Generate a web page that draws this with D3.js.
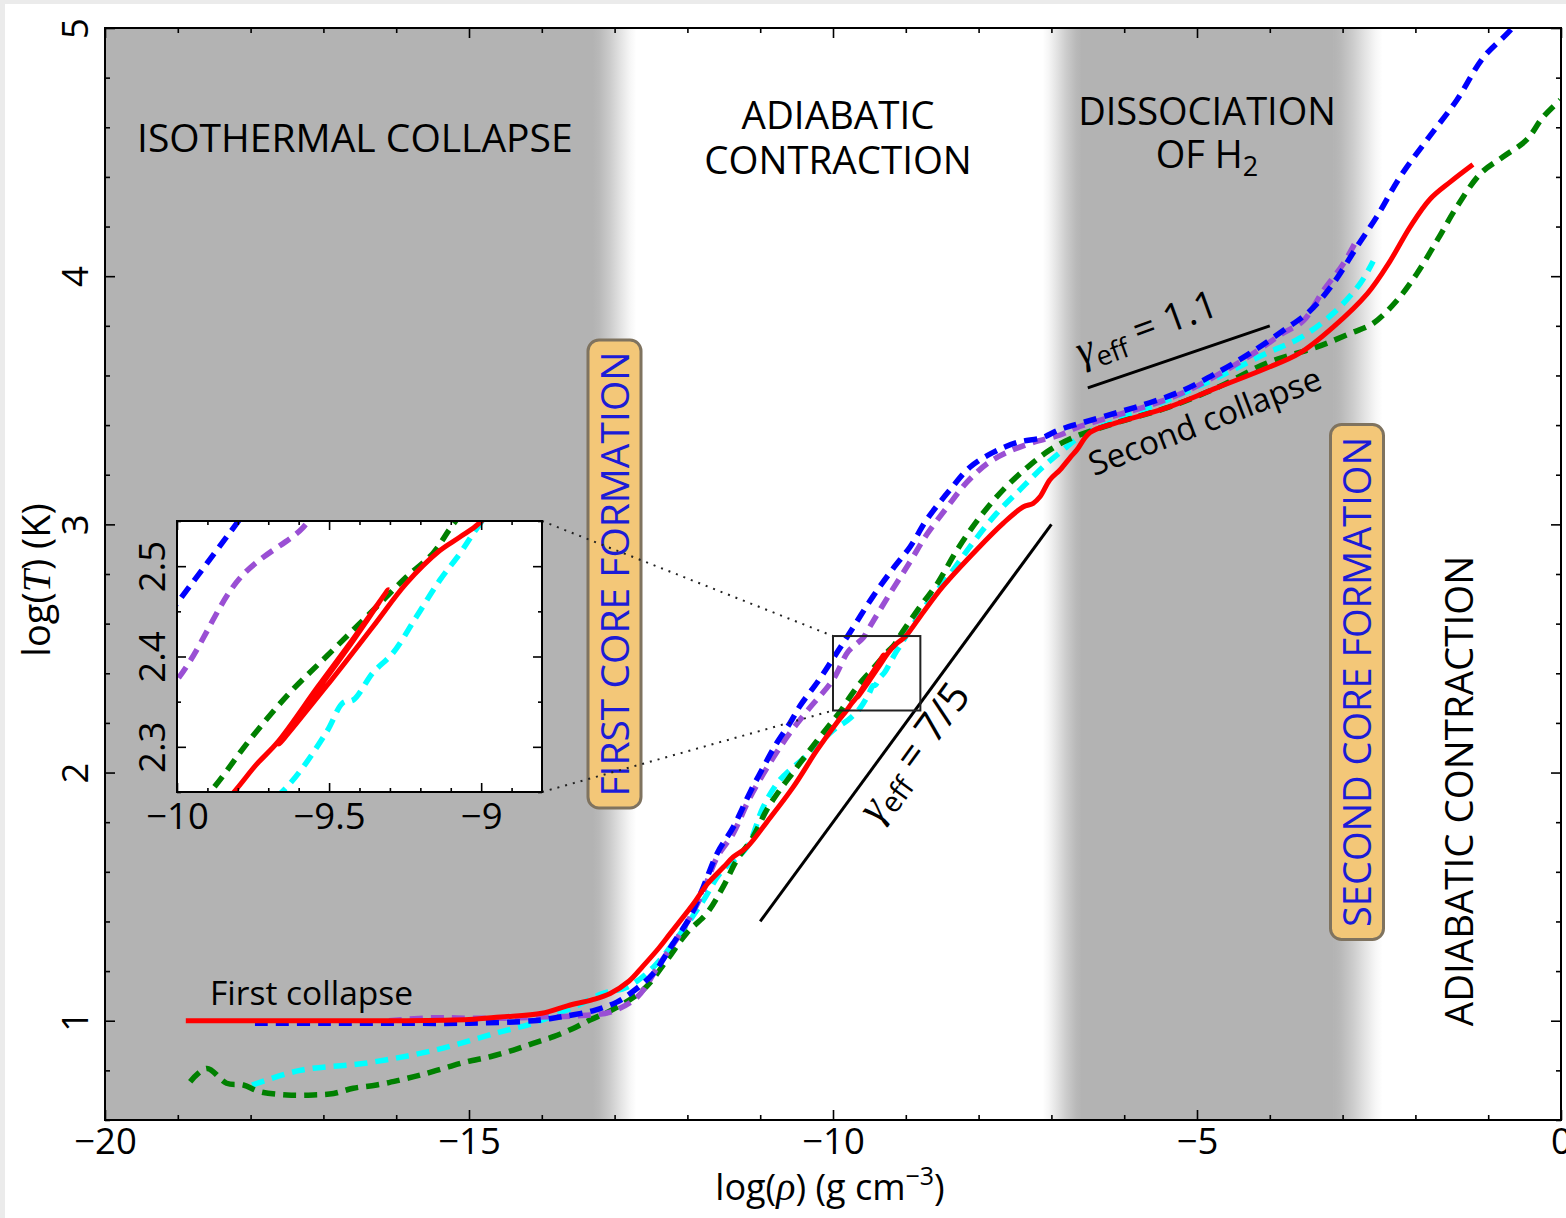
<!DOCTYPE html>
<html>
<head>
<meta charset="utf-8">
<script src="https://cdn.jsdelivr.net/npm/d3@7"></script>
<style>
  html, body { margin: 0; padding: 0; background: #ebebeb; }
  svg { display: block; }
  text { font-family: "Open Sans", "Noto Sans", sans-serif; fill: #000; }
</style>
</head>
<body>
<svg id="chart" width="1566" height="1218"></svg>
<script>
// Thermal evolution of collapsing cores: log(T) against log(rho), five runs.

// ---- series: [log rho (g cm^-3), log T (K)] ----
const redTrack = [
  [-18.89, 1.0], [-17, 1.0], [-16, 1.0], [-15, 1.005], [-14.57, 1.015], [-14, 1.03],
  [-13.65, 1.06], [-13.3, 1.085], [-13.06, 1.11], [-12.8, 1.16], [-12.61, 1.22],
  [-12.4, 1.29], [-12.24, 1.35], [-11.92, 1.47], [-11.73, 1.55], [-11.5, 1.62],
  [-11.37, 1.66], [-11.18, 1.70], [-10.91, 1.80], [-10.55, 1.94], [-10.22, 2.09],
  [-9.95, 2.20], [-9.81, 2.251], [-9.74, 2.28], [-9.667, 2.306], [-9.536, 2.367],
  [-9.42, 2.42], [-9.306, 2.474], [-9.42, 2.418], [-9.54, 2.362], [-9.665, 2.303],
  [-9.509, 2.367], [-9.356, 2.433], [-9.246, 2.481], [-9.137, 2.517], [-9.071, 2.532],
  [-9.005, 2.548], [-8.75, 2.65], [-8.49, 2.75], [-8.02, 2.90], [-7.66, 3.005],
  [-7.39, 3.07], [-7.25, 3.085], [-7.16, 3.11], [-7.02, 3.18], [-6.88, 3.22],
  [-6.74, 3.27], [-6.65, 3.30], [-6.47, 3.37], [-6.10, 3.41], [-5.41, 3.47],
  [-4.73, 3.55], [-4.04, 3.63], [-3.59, 3.69], [-3.13, 3.795], [-2.66, 3.93],
  [-2.35, 4.06], [-2.07, 4.20], [-1.80, 4.31], [-1.52, 4.38], [-1.21, 4.45]
];
const blueTrack = [
  [-17.94, 0.99], [-17, 0.99], [-16, 0.99], [-15, 0.99], [-14.12, 1.0], [-13.75, 1.015],
  [-13.3, 1.04], [-12.97, 1.075], [-12.83, 1.10], [-12.47, 1.19], [-12.2, 1.31],
  [-11.96, 1.42], [-11.78, 1.54], [-11.59, 1.675], [-11.37, 1.78], [-11.14, 1.92],
  [-10.96, 2.02], [-10.77, 2.12], [-10.59, 2.20], [-10.45, 2.27], [-10.2, 2.37],
  [-10.0, 2.459], [-9.8, 2.549], [-9.45, 2.71], [-9.18, 2.82], [-8.94, 2.91],
  [-8.71, 3.02], [-8.39, 3.14], [-8.12, 3.23], [-7.8, 3.29], [-7.47, 3.33],
  [-7.12, 3.35], [-6.9, 3.38], [-6.57, 3.41], [-6.1, 3.45], [-5.65, 3.49],
  [-5.19, 3.54], [-4.73, 3.61], [-4.27, 3.69], [-3.82, 3.78], [-3.45, 3.86],
  [-3.13, 3.97], [-2.80, 4.12], [-2.53, 4.24], [-2.21, 4.40], [-1.84, 4.55],
  [-1.43, 4.71], [-1.07, 4.88], [-0.70, 4.99], [-0.6, 5.03]
];
const purpleTrack = [
  [-16.1, 1.0], [-15.5, 1.012], [-15, 1.01], [-14.5, 1.01], [-14, 1.015], [-13.5, 1.02],
  [-13.06, 1.035], [-12.69, 1.095], [-12.38, 1.23], [-12.1, 1.35], [-11.83, 1.49],
  [-11.59, 1.66], [-11.37, 1.755], [-11.14, 1.90], [-10.82, 2.06], [-10.59, 2.16],
  [-10.35, 2.25], [-10.0, 2.374], [-9.79, 2.488], [-9.585, 2.543], [-9.53, 2.57],
  [-9.22, 2.72], [-8.94, 2.85], [-8.71, 2.96], [-8.43, 3.07], [-8.16, 3.17],
  [-7.88, 3.245], [-7.61, 3.29], [-7.25, 3.33], [-6.88, 3.36], [-6.65, 3.39],
  [-6.1, 3.44], [-5.65, 3.48], [-5.19, 3.53], [-4.73, 3.60], [-4.27, 3.68],
  [-3.82, 3.77], [-3.54, 3.82], [-3.27, 3.94], [-2.99, 4.05], [-2.80, 4.15]
];
const cyanTrack = [
  [-17.98, 0.741], [-17.32, 0.80], [-16.4, 0.83], [-15.49, 0.88], [-14.57, 0.955],
  [-14.12, 0.99], [-13.52, 1.06], [-13.16, 1.11], [-12.83, 1.135], [-12.47, 1.215],
  [-12.1, 1.35], [-11.78, 1.485], [-11.55, 1.595], [-11.18, 1.70], [-10.96, 1.86],
  [-10.73, 1.97], [-10.27, 2.09], [-10.0, 2.17], [-9.80, 2.21], [-9.635, 2.257],
  [-9.509, 2.316], [-9.454, 2.349], [-9.42, 2.352], [-9.356, 2.382], [-9.29, 2.404],
  [-9.213, 2.444], [-9.137, 2.484], [-9.07, 2.514], [-9.016, 2.541], [-8.71, 2.68],
  [-8.39, 2.80], [-8.08, 2.925], [-7.75, 3.045], [-7.43, 3.14], [-7.12, 3.23],
  [-6.84, 3.30], [-6.57, 3.36], [-6.1, 3.42], [-5.41, 3.50], [-4.73, 3.59],
  [-4.04, 3.69], [-3.59, 3.75], [-3.13, 3.85], [-2.76, 3.97], [-2.58, 4.06]
];
const greenTrack = [
  [-18.83, 0.754], [-18.60, 0.808], [-18.33, 0.748], [-18.10, 0.741], [-17.87, 0.714],
  [-17.50, 0.701], [-17.14, 0.701], [-16.86, 0.707], [-16.59, 0.728], [-16.27, 0.741],
  [-15.95, 0.761], [-15.67, 0.781], [-15.35, 0.808], [-15.03, 0.835], [-14.71, 0.855],
  [-14.39, 0.882], [-14.12, 0.909], [-13.84, 0.936], [-13.57, 0.969], [-13.34, 1.003],
  [-13.06, 1.04], [-12.61, 1.124], [-12.28, 1.245], [-12.01, 1.353], [-11.73, 1.434],
  [-11.51, 1.539], [-11.32, 1.648], [-11.10, 1.74], [-10.91, 1.85], [-10.73, 1.93],
  [-10.55, 2.0], [-10.32, 2.09], [-10.08, 2.18], [-9.886, 2.252], [-9.76, 2.308],
  [-9.629, 2.36], [-9.509, 2.40], [-9.356, 2.451], [-9.246, 2.488], [-9.159, 2.514],
  [-9.093, 2.546], [-8.8, 2.67], [-8.57, 2.76], [-8.30, 2.895], [-7.98, 3.03],
  [-7.66, 3.14], [-7.33, 3.23], [-7.02, 3.30], [-6.70, 3.35], [-6.1, 3.41],
  [-5.41, 3.47], [-4.73, 3.55], [-4.04, 3.65], [-3.35, 3.715], [-2.89, 3.77],
  [-2.58, 3.81], [-2.26, 3.90], [-1.98, 4.01], [-1.70, 4.145], [-1.43, 4.28],
  [-1.10, 4.415], [-0.80, 4.48], [-0.47, 4.55], [-0.25, 4.64], [-0.01, 4.71]
];

// reference slopes gamma_eff = 7/5 and 1.1 (endpoints in data units)
const gamma75Segment = [[-11, 1.4], [-7, 3.0]];
const gamma11Segment = [[-6.5, 3.55], [-4, 3.8]];

// shaded phases: [solid start, solid end, fade end] and [fade start, solid start, solid end, fade end]
const isothermalBand = [-20, -13.3, -12.7];
const dissociationBand = [-7.12, -6.58, -3.13, -2.45];

// axis ticks
const xMajorTicks = [-20, -15, -10, -5, 0];
const xMinorTicks = [-19, -18, -17, -16, -14, -13, -12, -11, -9, -8, -7, -6, -4, -3, -2, -1];
const yMajorTicks = [1, 2, 3, 4, 5];
const yMinorTicks = [0.6, 0.8, 1.2, 1.4, 1.6, 1.8, 2.2, 2.4, 2.6, 2.8, 3.2, 3.4, 3.6, 3.8, 4.2, 4.4, 4.6, 4.8];
const insetXDomain = [-10, -8.8];
const insetYDomain = [2.25, 2.55];
const insetXTicks = [-10, -9.5, -9];
const insetXMinor = [-9.9, -9.8, -9.7, -9.6, -9.4, -9.3, -9.2, -9.1, -8.9];
const insetYTicks = [2.3, 2.4, 2.5];
const insetYMinor = [2.25, 2.35, 2.45, 2.55];

const runs = [
  { key: "cyan",   data: cyanTrack,   color: "#00ffff", dashed: true },
  { key: "green",  data: greenTrack,  color: "#008000", dashed: true },
  { key: "purple", data: purpleTrack, color: "#9a4fd4", dashed: true },
  { key: "blue",   data: blueTrack,   color: "#0000ff", dashed: true },
  { key: "red",    data: redTrack,    color: "#ff0000", dashed: false }
];

// ---- layout ----
const W = 1566, H = 1218;
const P = { left: 105, right: 1561, top: 28, bottom: 1120 };
const FS = 38.5;
const TICK_FS = 36.5;

const svg = d3.select("#chart");
svg.append("rect").attr("x", 5).attr("y", 4).attr("width", W - 5).attr("height", H - 4).attr("fill", "#fff");

const x = d3.scaleLinear().domain([-20, 0]).range([P.left, P.right]);
const y = d3.scaleLinear().domain([0.6, 5]).range([P.bottom, P.top]);

const defs = svg.append("defs");
defs.append("clipPath").attr("id", "plotClip").append("rect")
  .attr("x", P.left).attr("y", P.top).attr("width", P.right - P.left).attr("height", P.bottom - P.top);

const GRAY = "#b3b3b3";
// soft edge of a shaded band, gray to white (or white to gray)
function fadeGradient(id, toWhite) {
  const g = defs.append("linearGradient").attr("id", id).attr("x1", 0).attr("x2", 1).attr("y1", 0).attr("y2", 0);
  const stops = [[0, GRAY], [0.15, "#b9b9b9"], [0.4, "#cccccc"], [0.65, "#e4e4e4"], [0.85, "#f6f6f6"], [1, "#ffffff"]];
  const ordered = toWhite ? stops : stops.map(([o, c]) => [1 - o, c]).reverse();
  ordered.forEach(([o, c]) => g.append("stop").attr("offset", o).attr("stop-color", c));
}
fadeGradient("fadeOut", true);
fadeGradient("fadeIn", false);

const plot = svg.append("g").attr("clip-path", "url(#plotClip)");

// shaded phases
function band(from, to, fill) {
  plot.append("rect").attr("x", x(from)).attr("y", P.top)
    .attr("width", x(to) - x(from)).attr("height", P.bottom - P.top).attr("fill", fill);
}
band(isothermalBand[0], isothermalBand[1] + 0.01, GRAY);
band(isothermalBand[1], isothermalBand[2], "url(#fadeOut)");
band(dissociationBand[0], dissociationBand[1], "url(#fadeIn)");
band(dissociationBand[1] - 0.01, dissociationBand[2] + 0.01, GRAY);
band(dissociationBand[2], dissociationBand[3], "url(#fadeOut)");

// text helper
function label(g, tx, ty, str, opts = {}) {
  const t = g.append("text").attr("transform", `translate(${tx},${ty})` + (opts.rotate ? ` rotate(${opts.rotate})` : ""))
    .attr("text-anchor", opts.anchor || "middle").attr("font-size", opts.size || FS);
  if (opts.fill) t.style("fill", opts.fill);
  if (str !== null) t.text(str);
  return t;
}

// phase titles
label(plot, 137, 152, "ISOTHERMAL COLLAPSE", { anchor: "start", size: 39 });
label(plot, 838, 129, "ADIABATIC");
label(plot, 838, 174, "CONTRACTION");
label(plot, 1207, 125, "DISSOCIATION", { size: 38 });
const ofh2 = label(plot, 1207, 168, null, { size: 38 });
ofh2.append("tspan").text("OF H");
ofh2.append("tspan").attr("font-size", 27).attr("dy", 8).text("2");
label(plot, 1473, 791, "ADIABATIC CONTRACTION", { rotate: -90 });

// highlighted phase boxes
function phaseBox(cx, cy, w, h, str, size) {
  plot.append("rect").attr("x", cx - w / 2).attr("y", cy - h / 2).attr("width", w).attr("height", h)
    .attr("rx", 11).attr("fill", "#f3c778").attr("stroke", "#7f735f").attr("stroke-width", 3);
  label(plot, cx + 14, cy, str, { rotate: -90, fill: "#1c1cd6", size });
}
phaseBox(614.5, 574, 53, 468, "FIRST CORE FORMATION", 39);
phaseBox(1357, 682, 53, 515, "SECOND CORE FORMATION", 38);

// reference slope segments
const seg = d3.line().x(d => x(d[0])).y(d => y(d[1]));
plot.append("path").attr("d", seg(gamma75Segment)).attr("stroke", "#000").attr("stroke-width", 3).attr("fill", "none");
plot.append("path").attr("d", seg(gamma11Segment)).attr("stroke", "#000").attr("stroke-width", 3).attr("fill", "none");

function gammaLabel(tx, ty, rot, value, size) {
  const t = label(plot, tx, ty, null, { rotate: rot, size });
  t.append("tspan").attr("font-family", "Liberation Serif, serif").attr("font-style", "italic").attr("font-size", size + 3).text("γ");
  t.append("tspan").attr("font-size", size * 0.7).attr("dy", 8).text("eff");
  t.append("tspan").attr("dy", -8).text(" = " + value);
}
gammaLabel(1151, 340, -20, "1.1", 39);
gammaLabel(925, 760, -54, "7/5", 41);

label(plot, 210, 1005, "First collapse", { anchor: "start", size: 33.5 });
label(plot, 1209, 432, "Second collapse", { rotate: -21, size: 33 });

// curves
const curve = d3.line().x(d => x(d[0])).y(d => y(d[1])).curve(d3.curveCatmullRom.alpha(0.5));
function drawRuns(g, line) {
  runs.forEach(r => {
    g.append("path").attr("d", line(r.data)).attr("fill", "none")
      .attr("stroke", r.color).attr("stroke-width", r.dashed ? 5.5 : 5)
      .attr("stroke-dasharray", r.dashed ? "13,8" : null)
      .attr("stroke-linejoin", "round");
  });
}
drawRuns(plot, curve);

// zoom rectangle in the main panel
plot.append("rect").attr("x", x(insetXDomain[0])).attr("y", y(insetYDomain[1]))
  .attr("width", x(insetXDomain[1]) - x(insetXDomain[0])).attr("height", y(insetYDomain[0]) - y(insetYDomain[1]))
  .attr("fill", "none").attr("stroke", "#222").attr("stroke-width", 2);

// ---- axes (ticks inside, on all four sides) ----
const fmt = d3.format("");
function styleAxis(g) { g.select(".domain").remove(); g.selectAll("line").attr("stroke", "#000").attr("stroke-width", 1.6); }
function bottomLabels(dy) {
  return g => g.selectAll("text").attr("y", dy).attr("dy", 0).attr("font-size", TICK_FS)
    .style("font-family", "Open Sans").attr("fill", "#000");
}
function sideLabels(off) {
  return g => g.selectAll("text").attr("x", 0).attr("y", -off).attr("dy", 0).attr("transform", "rotate(-90)")
    .attr("text-anchor", "middle").attr("font-size", TICK_FS).style("font-family", "Open Sans").attr("fill", "#000");
}
function frameTicks(xs, ys, box, xMaj, xMin, yMaj, yMin, majLen, minLen, xf, yf, xOff, yOff) {
  svg.append("g").attr("transform", `translate(0,${box.bottom})`)
    .call(d3.axisBottom(xs).tickValues(xMaj).tickSize(-majLen).tickFormat(xf)).call(styleAxis).call(bottomLabels(xOff));
  svg.append("g").attr("transform", `translate(0,${box.bottom})`)
    .call(d3.axisBottom(xs).tickValues(xMin).tickSize(-minLen).tickFormat("")).call(styleAxis);
  svg.append("g").attr("transform", `translate(0,${box.top})`)
    .call(d3.axisTop(xs).tickValues(xMaj).tickSize(-majLen).tickFormat("")).call(styleAxis);
  svg.append("g").attr("transform", `translate(0,${box.top})`)
    .call(d3.axisTop(xs).tickValues(xMin).tickSize(-minLen).tickFormat("")).call(styleAxis);
  svg.append("g").attr("transform", `translate(${box.left},0)`)
    .call(d3.axisLeft(ys).tickValues(yMaj).tickSize(-majLen).tickFormat(yf)).call(styleAxis).call(sideLabels(yOff));
  svg.append("g").attr("transform", `translate(${box.left},0)`)
    .call(d3.axisLeft(ys).tickValues(yMin).tickSize(-minLen).tickFormat("")).call(styleAxis);
  svg.append("g").attr("transform", `translate(${box.right},0)`)
    .call(d3.axisRight(ys).tickValues(yMaj).tickSize(-majLen).tickFormat("")).call(styleAxis);
  svg.append("g").attr("transform", `translate(${box.right},0)`)
    .call(d3.axisRight(ys).tickValues(yMin).tickSize(-minLen).tickFormat("")).call(styleAxis);
  svg.append("rect").attr("x", box.left).attr("y", box.top).attr("width", box.right - box.left).attr("height", box.bottom - box.top)
    .attr("fill", "none").attr("stroke", "#000").attr("stroke-width", 2);
}
frameTicks(x, y, P, xMajorTicks, xMinorTicks, yMajorTicks, yMinorTicks, 10, 5, fmt, fmt, 34, 17);

// axis titles
const xt = label(svg, 830, 1200, null, { size: 36 });
xt.append("tspan").text("log(");
xt.append("tspan").attr("font-family", "Liberation Serif, serif").attr("font-style", "italic").attr("font-size", 40).text("ρ");
xt.append("tspan").text(")  (g cm");
xt.append("tspan").attr("font-size", 25).attr("dy", -15).text("−3");
xt.append("tspan").attr("dy", 15).text(")");
const yt = label(svg, 50, 580, null, { rotate: -90, size: 38 });
yt.append("tspan").text("log(");
yt.append("tspan").attr("font-family", "Liberation Serif, serif").attr("font-style", "italic").attr("font-size", 40).text("T");
yt.append("tspan").text(")  (K)");

// ---- inset: close-up of the first-core loop ----
const I = { left: 177, right: 542, top: 521, bottom: 792 };
const ix = d3.scaleLinear().domain(insetXDomain).range([I.left, I.right]);
const iy = d3.scaleLinear().domain(insetYDomain).range([I.bottom, I.top]);
defs.append("clipPath").attr("id", "insetClip").append("rect")
  .attr("x", I.left).attr("y", I.top).attr("width", I.right - I.left).attr("height", I.bottom - I.top);

// dotted connectors to the zoom rectangle
const conn = svg.append("g").attr("stroke", "#222").attr("stroke-width", 2).attr("stroke-dasharray", "2,6").attr("fill", "none");
conn.append("line").attr("x1", I.right).attr("y1", I.top).attr("x2", x(insetXDomain[0])).attr("y2", y(insetYDomain[1]));
conn.append("line").attr("x1", I.right).attr("y1", I.bottom).attr("x2", x(insetXDomain[0])).attr("y2", y(insetYDomain[0]));

svg.append("rect").attr("x", I.left).attr("y", I.top).attr("width", I.right - I.left).attr("height", I.bottom - I.top).attr("fill", "#fff");
const inset = svg.append("g").attr("clip-path", "url(#insetClip)");
const icurve = d3.line().x(d => ix(d[0])).y(d => iy(d[1])).curve(d3.curveCatmullRom.alpha(0.5));
drawRuns(inset, icurve);

frameTicks(ix, iy, I, insetXTicks, insetXMinor, insetYTicks, insetYMinor, 9, 4, fmt, d3.format(".1f"), 37, 12);
</script>
</body>
</html>
